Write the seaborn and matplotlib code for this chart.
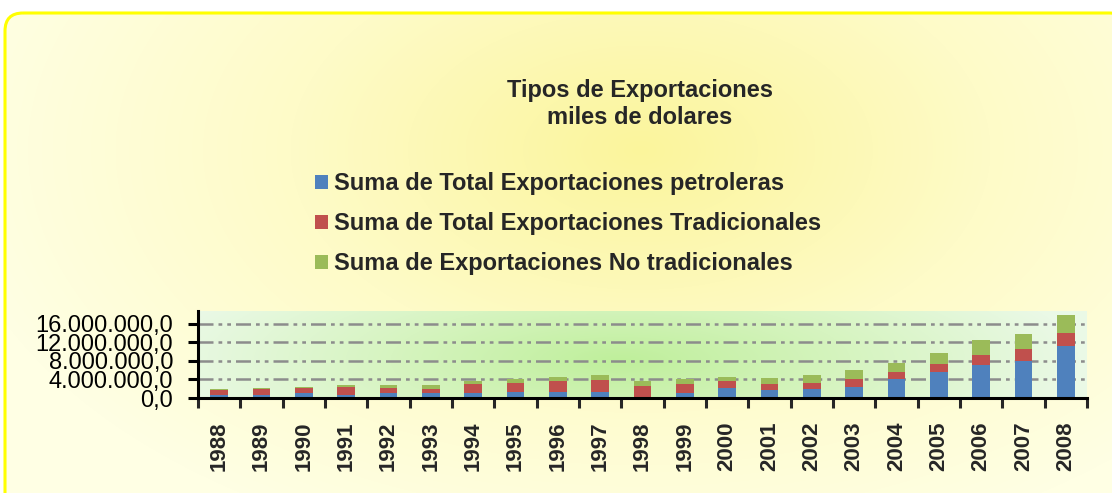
import numpy as np
import pandas as pd
import matplotlib
matplotlib.use("Agg")
import matplotlib.pyplot as plt
import seaborn as sns
from matplotlib.patches import FancyBboxPatch, Patch
from matplotlib.colors import LinearSegmentedColormap
from matplotlib.ticker import FuncFormatter

# Datos (miles de dolares)
anios = ["1988", "1989", "1990", "1991", "1992", "1993", "1994", "1995", "1996", "1997", "1998",
         "1999", "2000", "2001", "2002", "2003", "2004", "2005", "2006", "2007", "2008"]
petroleras = [730000, 730000, 1000000, 730000, 1000000, 1000000, 1000000, 1230000, 1230000, 1230000, 150000,
              1000000, 2100000, 1660000, 1950000, 2380000, 4040000, 5700000, 7220000, 8090000, 11200000]
tradicionales = [1000000, 1220000, 1160000, 1730000, 1160000, 1030000, 2030000, 1940000, 2370000, 2600000, 2440000,
                 1960000, 1500000, 1300000, 1220000, 1660000, 1660000, 1730000, 2080000, 2510000, 2900000]
no_tradicionales = [150000, 140000, 150000, 280000, 580000, 710000, 570000, 870000, 1000000, 1070000, 1020000,
                    1080000, 1030000, 1300000, 1730000, 1950000, 1870000, 2300000, 3170000, 3300000, 3900000]

series = ["Suma de Total Exportaciones petroleras",
          "Suma de Total Exportaciones Tradicionales",
          "Suma de Exportaciones No tradicionales"]
colores = ["#4F81BD", "#C0504D", "#9BBB59"]

df = pd.DataFrame({"anio": anios, "petro": petroleras, "trad": tradicionales, "notrad": no_tradicionales})
df["nivel2"] = df["petro"] + df["trad"]
df["nivel3"] = df["nivel2"] + df["notrad"]

sns.set_style("white")
plt.rcParams["font.family"] = ["Liberation Sans", "DejaVu Sans"]

W, H = 1112, 493
fig = plt.figure(figsize=(W / 100, H / 100), dpi=100, facecolor="white")

# fondo con degradado (caja redondeada amarilla)
bg = fig.add_axes([0, 0, 1, 1], zorder=-5)
bg.set_xlim(0, W)
bg.set_ylim(H, 0)
bg.axis("off")
yy, xx = np.mgrid[0:H, 0:W]
r = np.sqrt(((xx - 640) / 700.0) ** 2 + ((yy - 150) / 420.0) ** 2)
r = np.clip(r, 0, 1)
cm_amarillo = LinearSegmentedColormap.from_list("am", ["#FBF59C", "#FEFBC8", "#FFFFE4"])
img = bg.imshow(r, cmap=cm_amarillo, extent=(0, W, H, 0), aspect="auto", vmin=0, vmax=1)
caja = FancyBboxPatch((5, 13), W + 10, H + 10, boxstyle="round,pad=0,rounding_size=18",
                      facecolor="none", edgecolor="#FFFF00", linewidth=2.2)
bg.add_patch(caja)
img.set_clip_path(caja)

# area de trazado con degradado verde
x0, x1, y0, y1 = 198, 1087, 311, 398
yy2, xx2 = np.mgrid[y0:y1, x0:x1]
r2 = np.sqrt(((xx2 - 620) / 460.0) ** 2 + ((yy2 - 360) / 120.0) ** 2)
r2 = np.clip(r2, 0, 1)
cm_verde = LinearSegmentedColormap.from_list("ve", ["#BFEF9B", "#D6F4C0", "#EAF9E6"])
bg.imshow(r2, cmap=cm_verde, extent=(x0, x1, y1, y0), aspect="auto", vmin=0, vmax=1)

ax = fig.add_axes([x0 / W, 1 - y1 / H, (x1 - x0) / W, (y1 - y0) / H])
ax.patch.set_alpha(0)

sns.barplot(data=df, x="anio", y="nivel3", color=colores[2], width=0.42, errorbar=None,
            saturation=1, ax=ax, zorder=3, linewidth=0)
sns.barplot(data=df, x="anio", y="nivel2", color=colores[1], width=0.42, errorbar=None,
            saturation=1, ax=ax, zorder=3, linewidth=0)
sns.barplot(data=df, x="anio", y="petro", color=colores[0], width=0.42, errorbar=None,
            saturation=1, ax=ax, zorder=3, linewidth=0)

ax.set_xlim(-0.5, 20.5)
ax.set_ylim(0, 18.8e6)
ax.set_xlabel("")
ax.set_ylabel("")

ax.set_yticks([0, 4e6, 8e6, 12e6, 16e6])
ax.yaxis.set_major_formatter(FuncFormatter(
    lambda v, p: f"{v:,.1f}".replace(",", "X").replace(".", ",").replace("X", ".")))
ax.tick_params(axis="y", labelsize=17, length=7, width=2.2, direction="out", pad=11, left=True, colors="black")

ax.set_xticks(np.arange(-0.5, 21, 1))
ax.set_xticklabels([])
ax.set_xticks(np.arange(21), minor=True)
ax.set_xticklabels(anios, minor=True, rotation=90, fontsize=16, fontweight="bold")
ax.tick_params(axis="x", which="major", length=7, width=2.2, direction="out", bottom=True)
ax.tick_params(axis="x", which="minor", length=0, pad=17)

ax.grid(axis="y", color="#8C8C8C", linewidth=1.8, linestyle=(0, (6, 2, 1.5, 2, 1.5, 2)), zorder=1)
ax.set_axisbelow(True)
for lado in ["top", "right"]:
    ax.spines[lado].set_visible(False)
for lado in ["left", "bottom"]:
    ax.spines[lado].set_color("black")
    ax.spines[lado].set_linewidth(2.2)
    ax.spines[lado].set_zorder(5)

fig.text(640 / W, 1 - 90 / H, "Tipos de Exportaciones", ha="center", va="center",
         fontsize=17, fontweight="bold")
fig.text(640 / W, 1 - 118 / H, "miles de dolares", ha="center", va="center",
         fontsize=17, fontweight="bold")

manijas = [Patch(facecolor=c, edgecolor="none") for c in colores]
fig.legend(manijas, series, loc="upper left", bbox_to_anchor=(315 / W, 1 - 172 / H),
           frameon=False, prop={"size": 17, "weight": "bold"}, borderpad=0, borderaxespad=0,
           handlelength=0.55, handleheight=0.55, handletextpad=0.25, labelspacing=0.72)

fig.savefig("out.png", dpi=100, facecolor="white")
